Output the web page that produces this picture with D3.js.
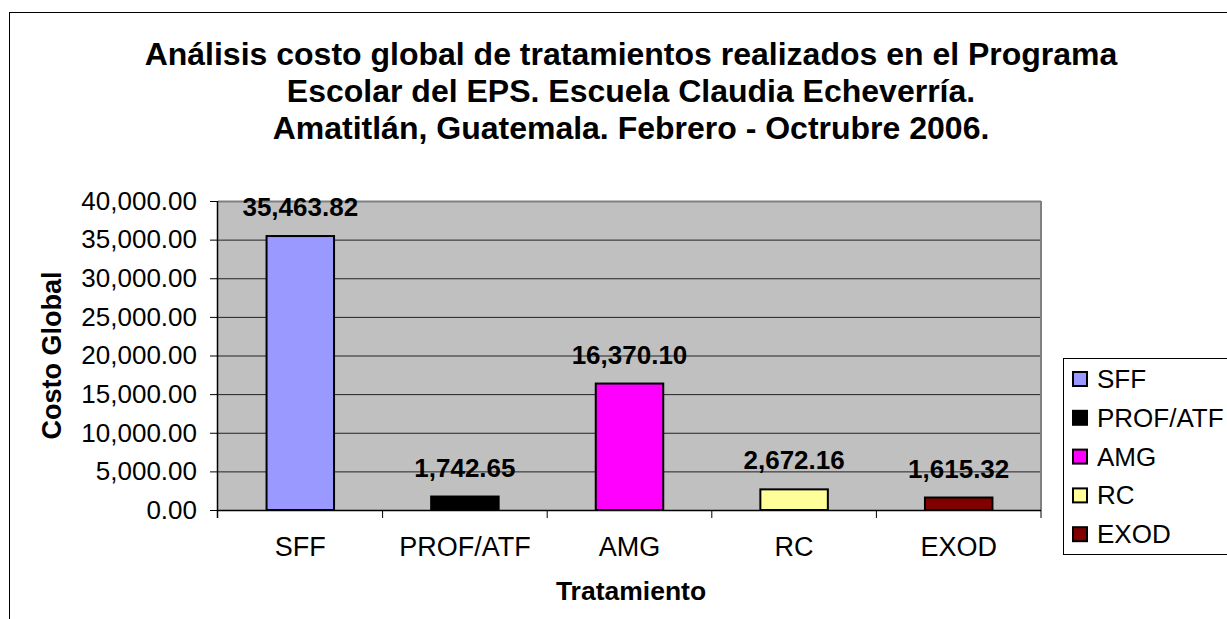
<!DOCTYPE html>
<html>
<head>
<meta charset="utf-8">
<script src="https://cdn.jsdelivr.net/npm/d3@7"></script>
<style>
  body { margin: 0; background: #fff; }
  svg { display: block; font-family: Arial, "Liberation Sans", sans-serif; }
  .domain { display: none; }
</style>
</head>
<body>
<div id="graph"></div>
<script>
const titleLines = [
  "Análisis costo global de tratamientos realizados en el Programa",
  "Escolar del EPS. Escuela Claudia Echeverría.",
  "Amatitlán, Guatemala. Febrero - Octrubre 2006."
];
const categories = ["SFF", "PROF/ATF", "AMG", "RC", "EXOD"];
const values = [35463.82, 1742.65, 16370.10, 2672.16, 1615.32];
const colors = ["#9999FF", "#000000", "#FF00FF", "#FFFF99", "#800000"];
const yTicks = [0, 5000, 10000, 15000, 20000, 25000, 30000, 35000, 40000];

const width = 1227, height = 619;
const plot = { left: 218, right: 1041, top: 201, bottom: 510 };
const fmt = d3.format(",.2f");

const svg = d3.select("#graph").append("svg")
  .attr("width", width)
  .attr("height", height);

// outer chart border (right/bottom fall outside the picture)
svg.append("rect")
  .attr("x", 9.5).attr("y", 12.5)
  .attr("width", 1300).attr("height", 700)
  .attr("fill", "#fff").attr("stroke", "#000");

// title
svg.append("text")
  .attr("text-anchor", "middle")
  .attr("font-weight", "bold")
  .attr("font-size", 32)
  .selectAll("tspan")
  .data(titleLines)
  .join("tspan")
  .attr("x", 631)
  .attr("y", (d, i) => 65 + i * 37)
  .text(d => d);

const x = d3.scaleBand().domain(categories).range([plot.left, plot.right]);
const y = d3.scaleLinear().domain([0, 40000]).range([plot.bottom, plot.top]);

// plot area
svg.append("rect")
  .attr("x", plot.left).attr("y", plot.top)
  .attr("width", plot.right - plot.left)
  .attr("height", plot.bottom - plot.top)
  .attr("fill", "#C0C0C0");

// gridlines
svg.append("g")
  .selectAll("line")
  .data(yTicks.slice(1))
  .join("line")
  .attr("x1", plot.left).attr("x2", plot.right)
  .attr("y1", d => y(d) + 0.5).attr("y2", d => y(d) + 0.5)
  .attr("stroke", d => d === 40000 ? "#808080" : "#222")
  .attr("stroke-width", d => d === 40000 ? 2 : 1);

// right border of plot area
svg.append("line")
  .attr("x1", plot.right).attr("x2", plot.right)
  .attr("y1", plot.top).attr("y2", plot.bottom)
  .attr("stroke", "#808080").attr("stroke-width", 2);

// bars
const barW = x.bandwidth() * 0.41;
svg.append("g")
  .selectAll("rect")
  .data(values)
  .join("rect")
  .attr("x", (d, i) => x(categories[i]) + (x.bandwidth() - barW) / 2)
  .attr("y", d => y(d))
  .attr("width", barW)
  .attr("height", d => plot.bottom - y(d))
  .attr("fill", (d, i) => colors[i])
  .attr("stroke", "#000")
  .attr("stroke-width", 2);

// value labels
svg.append("g")
  .selectAll("text")
  .data(values)
  .join("text")
  .attr("x", (d, i) => x(categories[i]) + x.bandwidth() / 2)
  .attr("y", d => y(d) - 20)
  .attr("text-anchor", "middle")
  .attr("font-weight", "bold")
  .attr("font-size", 26)
  .text(d => fmt(d));

// y axis
const yAxis = svg.append("g")
  .attr("transform", `translate(${plot.left},0)`)
  .call(d3.axisLeft(y).tickValues(yTicks).tickFormat(fmt).tickSize(8).tickPadding(13));
yAxis.selectAll("text").attr("font-size", 26).attr("fill", "#000").attr("font-family", null);
yAxis.selectAll(".tick line").attr("stroke", "#000");
svg.append("line")
  .attr("x1", plot.left - 0.5).attr("x2", plot.left - 0.5)
  .attr("y1", plot.top).attr("y2", plot.bottom + 8)
  .attr("stroke", "#000").attr("stroke-width", 1.5);

// x axis
const xAxis = svg.append("g")
  .attr("transform", `translate(0,${plot.bottom})`)
  .call(d3.axisBottom(x).tickSize(0).tickPadding(27));
xAxis.selectAll("text").attr("font-size", 27).attr("fill", "#000").attr("font-family", null);
svg.append("line")
  .attr("x1", plot.left).attr("x2", plot.right)
  .attr("y1", plot.bottom + 0.5).attr("y2", plot.bottom + 0.5)
  .attr("stroke", "#000").attr("stroke-width", 1.5);
svg.append("g")
  .selectAll("line")
  .data(categories.slice(1).map(c => x(c)).concat([plot.right]))
  .join("line")
  .attr("x1", d => d).attr("x2", d => d)
  .attr("y1", plot.bottom).attr("y2", plot.bottom + 8)
  .attr("stroke", "#000");

// axis titles
svg.append("text")
  .attr("x", 631).attr("y", 600)
  .attr("text-anchor", "middle")
  .attr("font-weight", "bold")
  .attr("font-size", 26.5)
  .text("Tratamiento");
svg.append("text")
  .attr("transform", `translate(61,${(plot.top + plot.bottom) / 2}) rotate(-90)`)
  .attr("text-anchor", "middle")
  .attr("font-weight", "bold")
  .attr("font-size", 27)
  .text("Costo Global");

// legend
const legend = svg.append("g");
legend.append("rect")
  .attr("x", 1063.5).attr("y", 358.5)
  .attr("width", 200).attr("height", 196)
  .attr("fill", "#fff").attr("stroke", "#000");
const item = legend.selectAll("g.item")
  .data(categories)
  .join("g")
  .attr("class", "item")
  .attr("transform", (d, i) => `translate(1072,${379 + i * 38.8})`);
item.append("rect")
  .attr("x", 1).attr("y", -7)
  .attr("width", 14).attr("height", 14)
  .attr("fill", (d, i) => colors[i])
  .attr("stroke", "#000").attr("stroke-width", 2);
item.append("text")
  .attr("x", 25).attr("y", 9)
  .attr("font-size", 26)
  .text(d => d);
</script>
</body>
</html>
